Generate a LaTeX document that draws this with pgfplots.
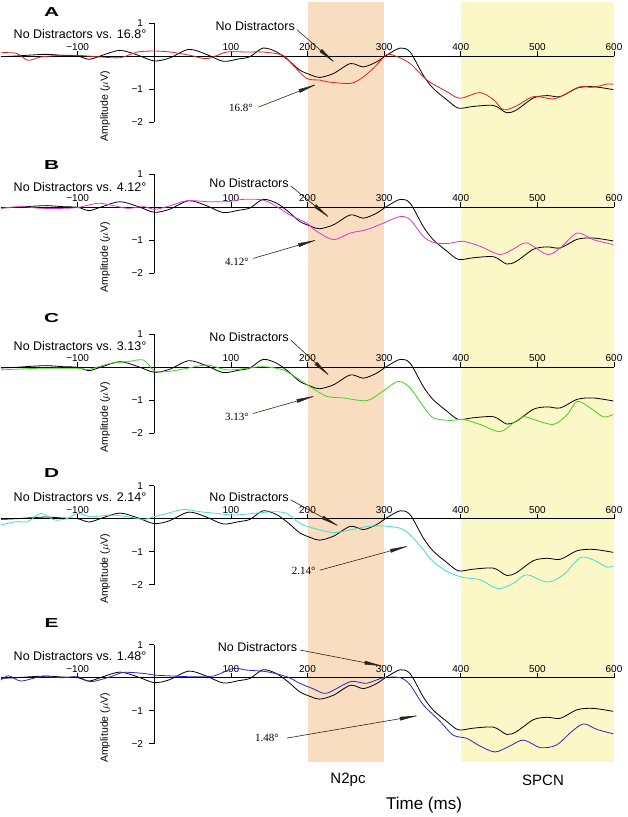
\documentclass[border=0pt]{standalone}
\usepackage{pgfplots}
\pgfplotsset{compat=1.18}
\usepackage{pgfplotstable}
\usepackage{fontspec}
\setmainfont{Liberation Sans}
\newfontfamily\seriffont{Liberation Serif}
\usetikzlibrary{arrows.meta}

\definecolor{peach}{RGB}{249,221,193}
\definecolor{paleyellow}{RGB}{252,247,198}
\definecolor{cred}{RGB}{232,30,30}
\definecolor{cmag}{RGB}{228,50,210}
\definecolor{cgreen}{RGB}{60,215,30}
\definecolor{ccyan}{RGB}{60,225,210}
\definecolor{cblue}{RGB}{40,40,200}
\definecolor{annot}{RGB}{45,35,25}

\pgfplotstableread{
t v
-200 -0.02
-180 0.00
-160 0.03
-140 0.05
-120 0.02
-100 0.00
-85 -0.10
-68 0.02
-45 0.17
-22 0.03
0 -0.15
20 -0.06
45 0.20
68 0.05
90 -0.16
110 -0.09
125 -0.02
142 0.24
160 0.12
176 -0.15
190 -0.43
205 -0.58
216 -0.65
234 -0.53
256 -0.23
273 -0.33
290 -0.18
303 0.02
321 0.24
334 0.12
351 -0.58
364 -0.98
382 -1.33
397 -1.58
416 -1.53
443 -1.50
460 -1.72
473 -1.63
495 -1.27
513 -1.20
530 -1.23
552 -0.97
573 -0.93
599 -1.02
}\blackdata

\pgfplotstableread{
t v
-200 0.10
-180 0.08
-165 -0.13
-148 -0.03
-122 0.02
-100 0.02
-70 -0.03
-44 -0.05
-22 0.12
0 0.15
21 0.12
47 0.02
69 -0.08
95 0.12
121 0.12
142 0.12
168 0.02
181 -0.28
199 -0.68
216 -0.73
225 -0.78
256 -0.83
273 -0.63
290 -0.28
303 0.04
316 -0.01
334 -0.23
356 -0.73
382 -1.08
399 -1.28
425 -1.11
443 -1.33
456 -1.63
473 -1.51
495 -1.23
521 -1.30
539 -1.13
556 -0.93
573 -0.95
591 -0.85
599 -0.86
}\reddata

\pgfplotstableread{
t v
-200 -0.03
-174 0.02
-148 -0.03
-113 -0.03
-100 -0.01
-74 0.12
-57 0.07
-35 -0.03
-14 0.02
0 -0.06
17 0.02
43 0.20
69 0.17
95 0.17
116 0.24
142 0.22
160 0.02
177 -0.23
199 -0.48
212 -0.73
234 -0.98
256 -0.78
277 -0.68
299 -0.48
321 -0.28
334 -0.38
351 -0.88
364 -1.06
382 -1.10
403 -1.03
425 -1.18
451 -1.43
469 -1.26
486 -1.08
513 -1.43
530 -1.23
552 -0.78
573 -0.98
599 -1.13
}\magdata

\pgfplotstableread{
t v
-200 -0.08
-150 -0.03
-100 -0.03
-85 -0.06
-57 0.12
-35 0.17
-14 0.22
0 -0.11
17 -0.13
43 -0.03
69 0.07
95 -0.08
121 -0.03
142 0.02
168 -0.08
190 -0.38
203 -0.58
225 -0.88
247 -0.93
277 -1.01
295 -0.78
318 -0.43
334 -0.63
351 -1.18
364 -1.53
386 -1.61
403 -1.58
425 -1.73
451 -1.95
469 -1.68
482 -1.50
495 -1.58
521 -1.73
539 -1.43
552 -1.03
569 -1.23
586 -1.50
599 -1.43
}\greendata

\pgfplotstableread{
t v
-200 -0.19
-180 -0.09
-165 -0.09
-148 0.16
-130 -0.04
-113 0.01
-100 0.16
-83 0.06
-57 0.11
-35 0.06
-14 -0.02
0 0.06
17 0.16
38 0.28
60 0.21
82 0.16
103 0.11
129 0.16
155 0.21
173 0.16
190 -0.14
208 -0.29
234 -0.42
256 -0.34
277 -0.24
299 -0.22
321 -0.29
334 -0.49
351 -0.94
364 -1.30
382 -1.60
403 -1.78
425 -1.85
449 -2.12
469 -1.95
486 -1.70
513 -1.92
534 -1.70
556 -1.18
573 -1.25
591 -1.47
599 -1.43
}\cyandata

\pgfplotstableread{
t v
-200 -0.07
-190 0.06
-174 -0.10
-148 0.03
-120 0.00
-100 0.03
-83 -0.12
-57 0.03
-40 0.16
-14 0.13
0 0.08
25 0.05
47 0.03
77 0.05
103 0.28
121 0.23
147 0.18
173 0.03
190 -0.17
208 -0.34
225 -0.47
256 -0.12
277 -0.17
299 0.00
321 0.00
334 -0.22
351 -0.82
373 -1.32
390 -1.74
408 -1.84
425 -2.07
445 -2.25
464 -2.07
482 -1.89
504 -2.12
525 -2.04
543 -1.67
560 -1.40
578 -1.57
599 -1.70
}\bluedata

\pgfplotsset{
  panel/.style={
    scale only axis, width=613pt, height=99pt,
    xmin=-200, xmax=600, ymin=-2, ymax=1,
    axis lines=middle,
    axis line style={-, line width=0.6pt, black},
    every inner x axis line/.append style={-},
    every inner y axis line/.append style={-},
    clip=false,
    xtick={-100,100,200,300,400,500,600},
    xticklabels={−100,100,200,300,400,500,600},
    ytick={-2,-1,1}, yticklabels={−2,−1,1},
    xtick align=inside, ytick align=outside,
    major tick length=5pt,
    tick style={line width=0.6pt, black},
    xticklabel style={anchor=south, yshift=4pt, inner sep=1pt, font=\fontsize{10}{11}\selectfont},
    yticklabel style={anchor=east, xshift=-5pt, inner sep=1pt, font=\fontsize{10}{11}\selectfont},
  },
}
\tikzset{
  curve/.style={smooth, tension=0.5, line width=0.8pt},
  ttl/.style={anchor=west, font=\fontsize{12.5}{14}\selectfont},
  nd/.style={anchor=east, font=\fontsize{12.5}{14}\selectfont, inner sep=1pt},
  deg/.style={anchor=east, font=\seriffont\fontsize{11}{12}\selectfont, inner sep=1pt},
  letter/.style={font=\bfseries\fontsize{13}{14}\selectfont, xscale=1.6},
  ylab/.style={rotate=90, font=\fontsize{10.5}{12}\selectfont},
  arr/.style={annot, line width=0.6pt, -{Latex[length=22pt, width=3.8pt]}},
}

\begin{document}
\begin{tikzpicture}[x=1pt,y=1pt]
\path[use as bounding box] (0,0) rectangle (628,817);

% background shading
\begin{axis}[at={(1pt,55pt)}, anchor=south west, scale only axis,
  width=613pt, height=760pt, xmin=-200, xmax=600, ymin=0, ymax=1, hide axis]
  \addplot[fill=peach, draw=none] coordinates {(200,0) (200,1) (300,1) (300,0)} -- cycle;
  \addplot[fill=paleyellow, draw=none] coordinates {(400,0) (400,1) (600,1) (600,0)} -- cycle;
\end{axis}

% Panel A
\begin{axis}[panel, at={(1pt,695pt)}, anchor=south west]
  \addplot[curve, black, no markers] table[x=t,y=v] {\blackdata};
  \addplot[curve, cred, no markers] table[x=t,y=v] {\reddata};
  \node[letter] at (axis cs:-134,1.33) {A};
  \node[ttl] at (axis cs:-188,0.67) {No Distractors vs. 16.8°};
  \node[ylab] at (axis cs:-64,-1.52) {Amplitude ($\mu$V)};
  \node[nd] at (axis cs:185,0.9) {No Distractors};
  \draw[arr] (axis cs:186,0.8) -- (axis cs:239,-0.27);
  \node[deg] at (axis cs:130,-1.58) {16.8°};
  \draw[arr] (axis cs:136,-1.55) -- (axis cs:216,-0.82);
\end{axis}

% Panel B
\begin{axis}[panel, at={(1pt,543.7pt)}, anchor=south west]
  \addplot[curve, black, no markers] table[x=t,y=v] {\blackdata};
  \addplot[curve, cmag, no markers] table[x=t,y=v] {\magdata};
  \node[letter] at (axis cs:-134,1.28) {B};
  \node[ttl] at (axis cs:-188,0.62) {No Distractors vs. 4.12°};
  \node[ylab] at (axis cs:-64,-1.52) {Amplitude ($\mu$V)};
  \node[nd] at (axis cs:177,0.74) {No Distractors};
  \draw[arr] (axis cs:178,0.65) -- (axis cs:232,-0.38);
  \node[deg] at (axis cs:125,-1.66) {4.12°};
  \draw[arr] (axis cs:129,-1.55) -- (axis cs:216,-0.96);
\end{axis}

% Panel C
\begin{axis}[panel, at={(1pt,383.7pt)}, anchor=south west]
  \addplot[curve, black, no markers] table[x=t,y=v] {\blackdata};
  \addplot[curve, cgreen, no markers] table[x=t,y=v] {\greendata};
  \node[letter] at (axis cs:-134,1.5) {C};
  \node[ttl] at (axis cs:-188,0.65) {No Distractors vs. 3.13°};
  \node[ylab] at (axis cs:-64,-1.52) {Amplitude ($\mu$V)};
  \node[nd] at (axis cs:177,0.92) {No Distractors};
  \draw[arr] (axis cs:178,0.83) -- (axis cs:232,-0.33);
  \node[deg] at (axis cs:125,-1.5) {3.13°};
  \draw[arr] (axis cs:129,-1.4) -- (axis cs:214,-0.84);
\end{axis}

% Panel D
\begin{axis}[panel, at={(1pt,232.3pt)}, anchor=south west]
  \addplot[curve, black, no markers] table[x=t,y=v] {\blackdata};
  \addplot[curve, ccyan, no markers] table[x=t,y=v] {\cyandata};
  \node[letter] at (axis cs:-134,1.38) {D};
  \node[ttl] at (axis cs:-188,0.67) {No Distractors vs. 2.14°};
  \node[ylab] at (axis cs:-64,-1.52) {Amplitude ($\mu$V)};
  \node[nd] at (axis cs:177,0.66) {No Distractors};
  \draw[arr] (axis cs:178,0.57) -- (axis cs:245,-0.28);
  \node[deg] at (axis cs:212,-1.58) {2.14°};
  \draw[arr] (axis cs:216,-1.56) -- (axis cs:336,-0.8);
\end{axis}

% Panel E
\begin{axis}[panel, at={(1pt,73.3pt)}, anchor=south west]
  \addplot[curve, black, no markers] table[x=t,y=v] {\blackdata};
  \addplot[curve, cblue, no markers] table[x=t,y=v] {\bluedata};
  \node[letter] at (axis cs:-134,1.66) {E};
  \node[ttl] at (axis cs:-188,0.67) {No Distractors vs. 1.48°};
  \node[ylab] at (axis cs:-64,-1.52) {Amplitude ($\mu$V)};
  \node[nd] at (axis cs:188,0.94) {No Distractors};
  \draw[arr] (axis cs:190,0.84) -- (axis cs:303,0.33);
  \node[deg] at (axis cs:164,-1.83) {1.48°};
  \draw[arr] (axis cs:173,-1.83) -- (axis cs:349,-1.13);
\end{axis}

\node[font=\fontsize{15}{17}\selectfont] at (348,37) {N2pc};
\node[font=\fontsize{15}{17}\selectfont] at (543,37) {SPCN};
\node[font=\fontsize{17}{19}\selectfont] at (424,12) {Time (ms)};
\end{tikzpicture}
\end{document}
